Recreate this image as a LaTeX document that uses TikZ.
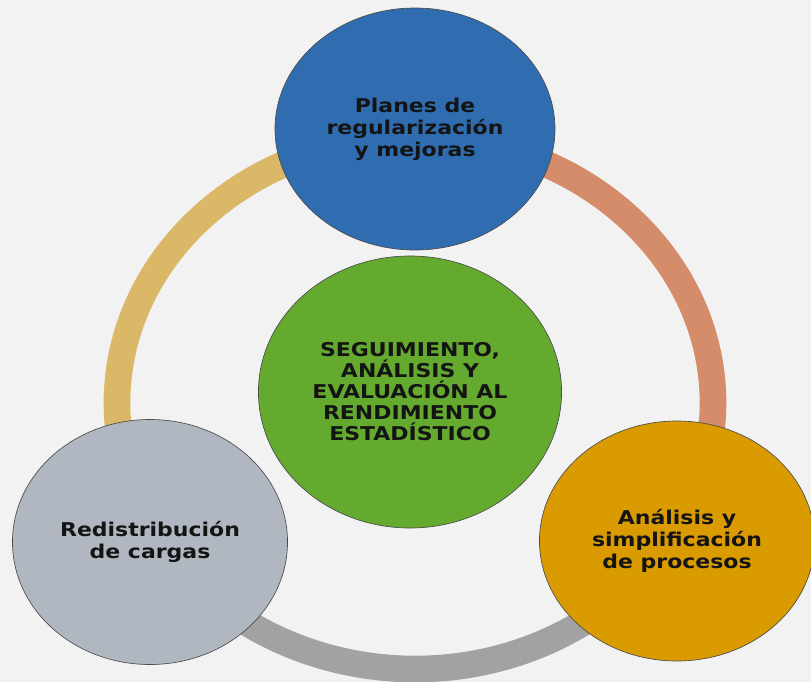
\documentclass[tikz,border=0pt]{standalone}
\usepackage{fontspec}
\setmainfont{DejaVu Sans}
\usetikzlibrary{shapes.geometric}
\definecolor{bg}{HTML}{F2F2F2}
\definecolor{cblue}{HTML}{2F6DB0}
\definecolor{cgreen}{HTML}{63AA2E}
\definecolor{cgray}{HTML}{B0B7C0}
\definecolor{corange}{HTML}{D99B00}
\definecolor{ringY}{HTML}{DAB868}
\definecolor{ringS}{HTML}{D48C6A}
\definecolor{ringG}{HTML}{A2A2A2}
\begin{document}
\begin{tikzpicture}[x=0.75pt,y=-0.75pt,
  bub/.style={ellipse, draw=black!70, line width=0.5pt, inner sep=0pt, xscale=1.157,
    align=center, text=black!92, font=\fontsize{14.25}{16.5}\selectfont\bfseries},
  ringarc/.style={line width=20pt}]
\fill[bg] (0,0) rectangle (811,682);
\useasboundingbox (0,0) rectangle (811,682);
% ring
\coordinate (rtop) at (415,137);
\path (415,403) ++(150:298 and 266) coordinate (rleft);
\draw[ringarc, draw=ringY] (rtop) arc[start angle=270, end angle=150, x radius=298, y radius=266];
\draw[ringarc, draw=ringS] (rtop) arc[start angle=270, end angle=390, x radius=298, y radius=266];
\draw[ringarc, draw=ringG] (rleft) arc[start angle=150, end angle=30, x radius=298, y radius=266];
% bubbles
\node[bub, fill=cblue, minimum width=181.5pt, minimum height=181.5pt] (plan) at (415,129)
  {Planes de\\regularización\\y mejoras};
\node[bub, fill=cgreen, minimum width=196.5pt, minimum height=204pt,
  font=\fontsize{14.25}{15.75}\selectfont\bfseries] (core) at (410,392)
  {SEGUIMIENTO,\\ANÁLISIS Y\\EVALUACIÓN AL\\RENDIMIENTO\\ESTADÍSTICO};
\node[bub, fill=cgray, minimum width=178.3pt, minimum height=183.75pt] (redis) at (150,542)
  {Redistribución\\de cargas};
\node[bub, fill=corange, minimum width=178.3pt, minimum height=180pt] (simpl) at (677,541)
  {Análisis y\\simplificación\\de procesos};
\end{tikzpicture}
\end{document}
